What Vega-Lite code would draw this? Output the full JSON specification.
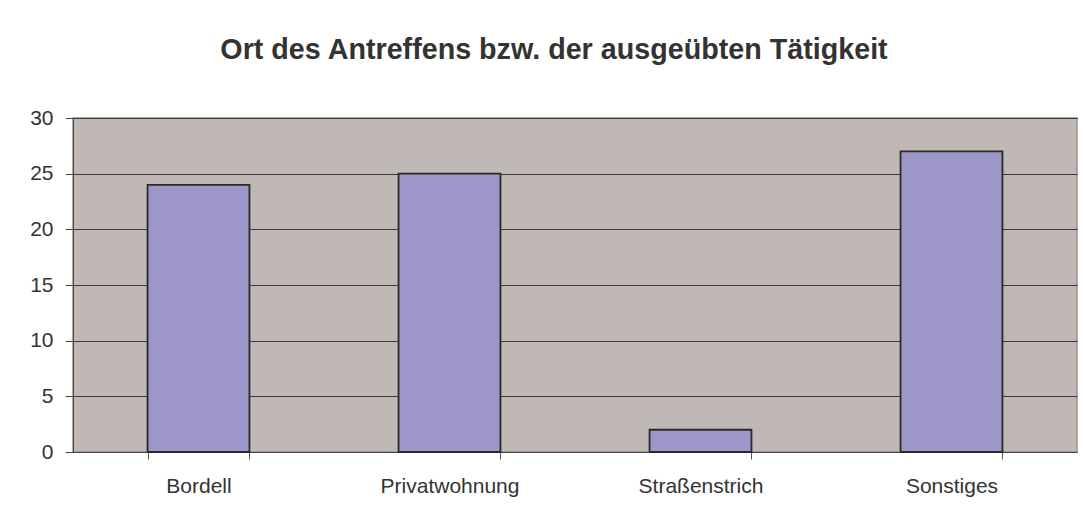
{
  "$schema": "https://vega.github.io/schema/vega-lite/v6.json",
  "autosize": "none",
  "width": 1004,
  "height": 334,
  "padding": {"left": 73, "top": 118, "right": 7, "bottom": 67},
  "background": "white",
  "title": {
    "text": "Ort des Antreffens bzw. der ausgeübten Tätigkeit",
    "font": "Liberation Sans",
    "fontSize": 28.7,
    "fontWeight": "bold",
    "color": "#333333",
    "anchor": "middle",
    "frame": "group",
    "dx": -21,
    "offset": 42
  },
  "data": {
    "values": [
      {"Ort": "Bordell", "Anzahl": 24},
      {"Ort": "Privatwohnung", "Anzahl": 25},
      {"Ort": "Straßenstrich", "Anzahl": 2},
      {"Ort": "Sonstiges", "Anzahl": 27}
    ]
  },
  "mark": {"type": "bar", "color": "#9c96c9", "stroke": "#2a2a2a", "strokeWidth": 1.8},
  "encoding": {
    "x": {
      "field": "Ort",
      "type": "nominal",
      "sort": null,
      "scale": {"paddingInner": 0.594, "paddingOuter": 0.297},
      "axis": {
        "title": null,
        "labelAngle": 0,
        "tickBand": "extent",
        "tickSize": 7,
        "tickColor": "#555555",
        "domainColor": "#444444",
        "labelPadding": 16,
        "labelFont": "Liberation Sans",
        "labelFontSize": 21,
        "labelColor": "#333333",
        "grid": false
      }
    },
    "y": {
      "field": "Anzahl",
      "type": "quantitative",
      "scale": {"domain": [0, 30], "nice": false},
      "axis": {
        "title": null,
        "values": [0, 5, 10, 15, 20, 25, 30],
        "tickSize": 8,
        "tickColor": "#444444",
        "domainColor": "#444444",
        "labelPadding": 12,
        "labelFont": "Liberation Sans",
        "labelFontSize": 21,
        "labelColor": "#333333",
        "grid": true,
        "gridColor": "#3a3a3a",
        "gridWidth": 1
      }
    }
  },
  "config": {
    "view": {"fill": "#c0b8b4", "stroke": "#9a908c", "strokeWidth": 1.5}
  }
}
